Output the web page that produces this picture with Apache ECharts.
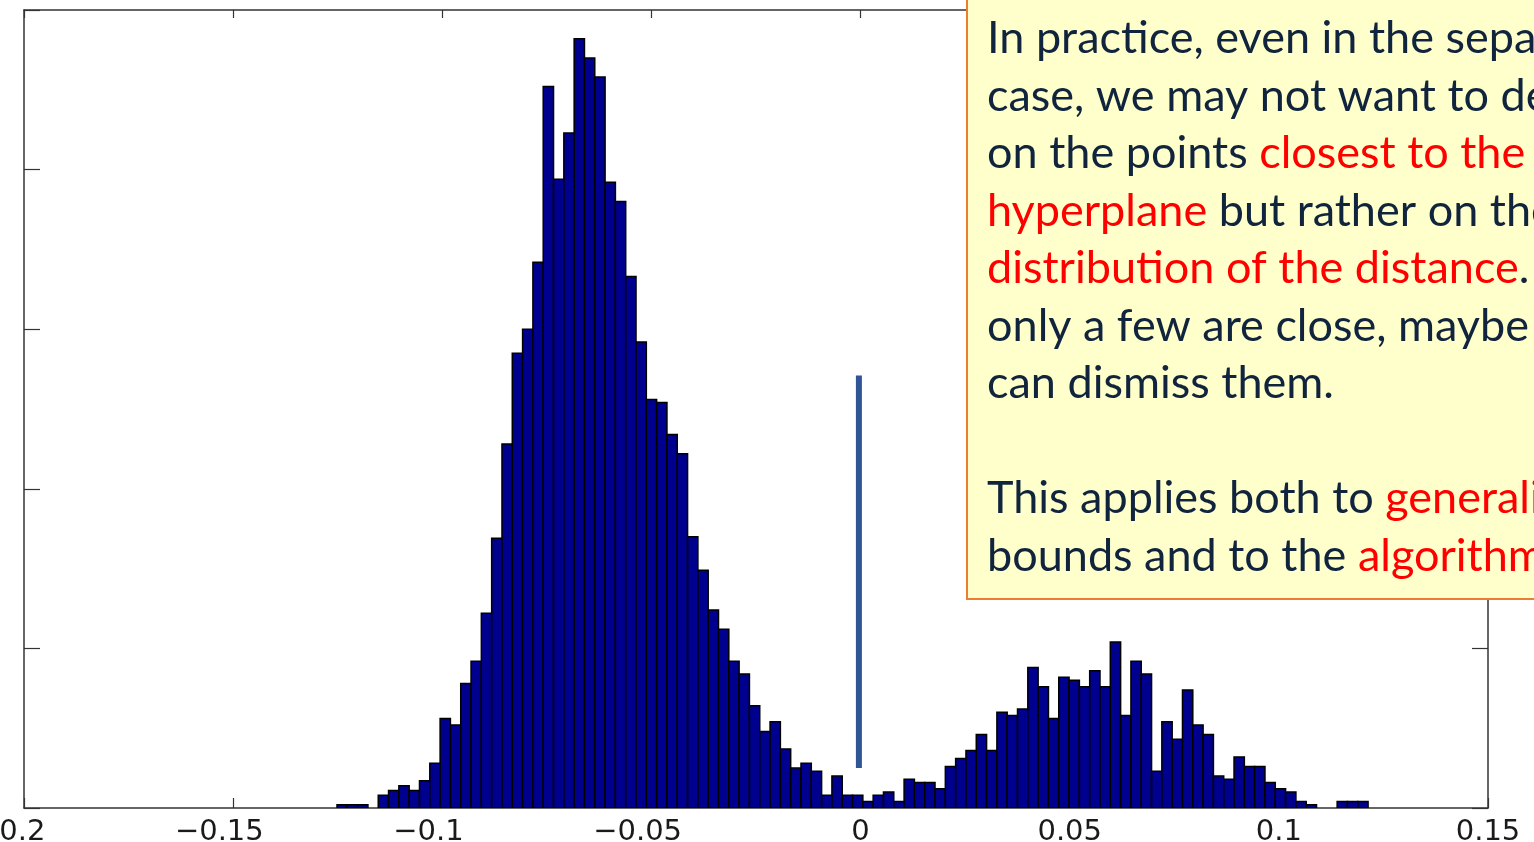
<!DOCTYPE html>
<html>
<head>
<meta charset="utf-8">
<script src="https://cdn.jsdelivr.net/npm/echarts@6/dist/echarts.min.js"></script>
<style>
  html, body { margin: 0; padding: 0; background: #ffffff; }
  #chart { width: 1534px; height: 842px; }
</style>
</head>
<body>
<div id="chart"></div>
<script>
// ---- data ----
const binStart = -0.12517;   // left edge of first histogram bin
const binWidth = 0.002465;   // histogram bin width
const counts = [
  2, 2, 2, 0, 8, 11, 14, 11, 17, 28,
  56, 52, 78, 92, 122, 169, 228, 285, 300, 342,
  452, 394, 423, 482, 470, 458, 392, 380, 333, 292,
  256, 254, 234, 222, 170, 149, 124, 112, 92, 84,
  64, 48, 54, 37, 25, 28, 23, 8, 20, 8,
  8, 4, 8, 10, 4, 18, 16, 16, 12, 26,
  31, 36, 46, 36, 60, 58, 62, 88, 76, 56,
  82, 80, 76, 86, 76, 104, 58, 92, 84, 23,
  54, 43, 74, 52, 46, 20, 18, 32, 26, 26,
  16, 12, 10, 4, 2, 0, 0, 4, 4, 4
];
const xTickLabels = ['\u22120.2', '\u22120.15', '\u22120.1', '\u22120.05', '0', '0.05', '0.1', '0.15'];
const markerX = -0.0004;          // vertical separator line position
const markerRange = [25, 271];    // its vertical extent (y units)

const noteLines = [
  [['d', 'In practice, even in the separable']],
  [['d', 'case, we may not want to depend']],
  [['d', 'on the points '], ['r', 'closest to the']],
  [['r', 'hyperplane'], ['d', ' but rather on the']],
  [['r', 'distribution of the distance'], ['d', '. If']],
  [['d', 'only a few are close, maybe we']],
  [['d', 'can dismiss them.']],
  [],
  [['d', 'This applies both to '], ['r', 'generalization']],
  [['d', 'bounds and to the '], ['r', 'algorithms.']]
];

// ---- build ----
const histData = counts.map((c, i) => [binStart + i * binWidth, binStart + (i + 1) * binWidth, c]);

const noteText = noteLines.map(line =>
  line.length ? line.map(([k, t]) => '{' + k + '|' + t + '}').join('') : '{d| }'
).join('\n');

const chart = echarts.init(document.getElementById('chart'), null, { renderer: 'canvas' });

const axisLineStyle = { color: '#333333', width: 1.5 };
const NB = '\u00a0\u00a0\u00a0';

chart.setOption({
  animation: false,
  backgroundColor: '#ffffff',
  grid: { left: 24, right: 46, top: 10, bottom: 34, containLabel: false, outerBoundsMode: 'none' },
  xAxis: [
    {
      type: 'value', position: 'bottom', min: -0.2, max: 0.15, interval: 0.05,
      axisLine: { show: true, onZero: false, lineStyle: axisLineStyle },
      axisTick: { show: true, inside: true, length: 10, lineStyle: { color: '#333', width: 1.2 } },
      splitLine: { show: false },
      axisLabel: {
        show: true, interval: 0, margin: 10, showMinLabel: true, showMaxLabel: true,
        hideOverlap: false,
        color: '#1a1a1a', fontFamily: 'DejaVu Sans', fontSize: 29,
        formatter: (v, i) => {
          const t = xTickLabels[i];
          return t.charAt(0) === '\u2212' ? t + NB : t;
        }
      }
    },
    {
      type: 'value', position: 'top', min: -0.2, max: 0.15, interval: 0.05,
      axisLine: { show: true, onZero: false, lineStyle: axisLineStyle },
      axisTick: { show: true, inside: true, length: 8, lineStyle: { color: '#333', width: 1.2 } },
      splitLine: { show: false },
      axisLabel: { show: false }
    }
  ],
  yAxis: [
    {
      type: 'value', position: 'left', min: 0, max: 500, interval: 100,
      axisLine: { show: true, onZero: false, lineStyle: axisLineStyle },
      axisTick: { show: true, inside: true, length: 16, lineStyle: { color: '#333', width: 1.2 } },
      splitLine: { show: false },
      axisLabel: { show: false }
    },
    {
      type: 'value', position: 'right', min: 0, max: 500, interval: 100,
      axisLine: { show: true, onZero: false, lineStyle: axisLineStyle },
      axisTick: { show: true, inside: true, length: 16, lineStyle: { color: '#333', width: 1.2 } },
      splitLine: { show: false },
      axisLabel: { show: false }
    }
  ],
  series: [
    {
      type: 'custom',
      xAxisIndex: 0, yAxisIndex: 0,
      clip: true,
      data: histData,
      renderItem: (params, api) => {
        const x0 = api.value(0), x1 = api.value(1), y = api.value(2);
        if (y <= 0) return null;
        const p0 = api.coord([x0, y]);
        const p1 = api.coord([x1, 0]);
        return {
          type: 'rect',
          shape: { x: p0[0], y: p0[1], width: p1[0] - p0[0], height: p1[1] - p0[1] },
          style: { fill: '#00008f', stroke: '#000000', lineWidth: 1.5 }
        };
      },
      z: 2
    },
    {
      type: 'line',
      xAxisIndex: 0, yAxisIndex: 0,
      data: [[markerX, markerRange[0]], [markerX, markerRange[1]]],
      symbol: 'none',
      lineStyle: { color: '#2f5597', width: 6, cap: 'butt' },
      z: 3
    }
  ],
  graphic: [
    {
      type: 'rect', z: 100,
      shape: { x: 967, y: -5, width: 600, height: 604 },
      style: { fill: '#ffffcc', stroke: '#ed7d31', lineWidth: 2 }
    },
    {
      type: 'text', z: 101, x: 987, y: 10,
      style: {
        text: noteText,
        font: '45px Lato',
        fill: '#10243e',
        lineHeight: 57.5,
        rich: {
          d: { fontFamily: 'Lato', fontSize: 45, fill: '#10243e', lineHeight: 57.5 },
          r: { fontFamily: 'Lato', fontSize: 45, fill: '#ff0000', lineHeight: 57.5 }
        }
      }
    }
  ]
});
</script>
</body>
</html>
